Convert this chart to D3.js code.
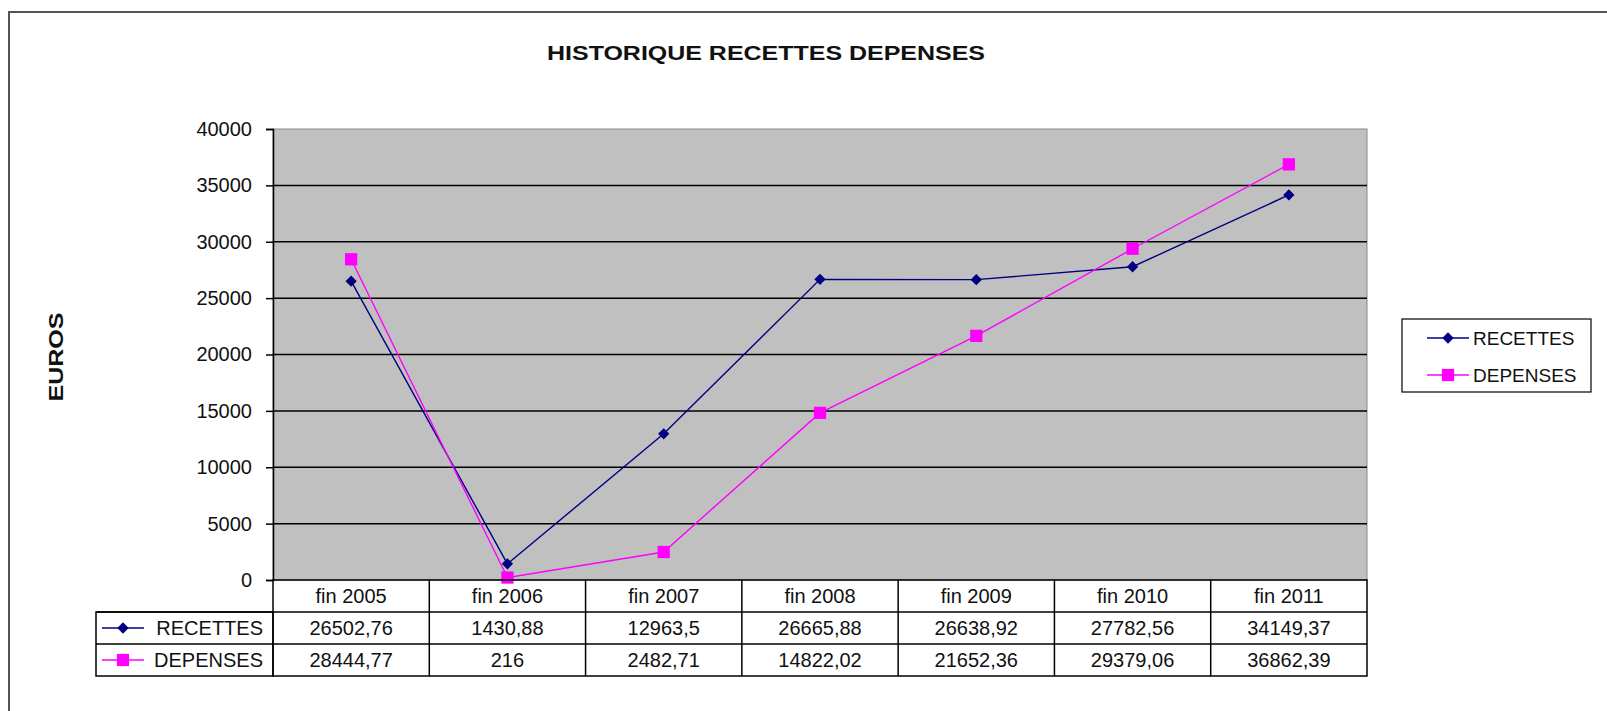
<!DOCTYPE html>
<html>
<head>
<meta charset="utf-8">
<script src="https://cdn.jsdelivr.net/npm/d3@7"></script>
<style>
  body { margin: 0; background: #fff; }
  text { font-family: "Liberation Sans", Arial, sans-serif; fill: #111; }
</style>
</head>
<body>
<svg id="chart" width="1607" height="711"></svg>
<script>
var years = ["fin 2005", "fin 2006", "fin 2007", "fin 2008", "fin 2009", "fin 2010", "fin 2011"]
var recettes = [26502.76, 1430.88, 12963.5, 26665.88, 26638.92, 27782.56, 34149.37]
var depenses = [28444.77, 216, 2482.71, 14822.02, 21652.36, 29379.06, 36862.39]
var recettesLabels = ["26502,76", "1430,88", "12963,5", "26665,88", "26638,92", "27782,56", "34149,37"]
var depensesLabels = ["28444,77", "216", "2482,71", "14822,02", "21652,36", "29379,06", "36862,39"]
var yTicks = [0, 5000, 10000, 15000, 20000, 25000, 30000, 35000, 40000]

var series = [
    {name: "RECETTES", values: recettes, labels: recettesLabels, color: "#000080", shape: "diamond"},
    {name: "DEPENSES", values: depenses, labels: depensesLabels, color: "#ff00ff", shape: "square"}
]

var dims = {
    plotLeft: 273,
    plotRight: 1367,
    plotTop: 129,
    plotBottom: 580,
    rowH: 32,
    tableLeft: 96
}

var svg = d3.select("#chart")

// outer frame: only top and left edges visible
svg.append("path")
    .attr("d", "M9,711 L9,12 L1607,12")
    .attr("fill", "none")
    .attr("stroke", "#555")
    .attr("stroke-width", 2)

svg.append("text")
    .attr("x", 766)
    .attr("y", 60)
    .attr("text-anchor", "middle")
    .attr("font-size", 21)
    .attr("font-weight", "bold")
    .attr("textLength", 438)
    .attr("lengthAdjust", "spacingAndGlyphs")
    .text("HISTORIQUE RECETTES DEPENSES")

svg.append("text")
    .attr("transform", "translate(63,357) rotate(-90)")
    .attr("text-anchor", "middle")
    .attr("font-size", 20)
    .attr("font-weight", "bold")
    .attr("textLength", 89)
    .attr("lengthAdjust", "spacingAndGlyphs")
    .text("EUROS")

var xScale = d3.scaleBand()
    .domain(years)
    .range([dims.plotLeft, dims.plotRight])
    .padding(0)

var yScale = d3.scaleLinear()
    .domain([0, 40000])
    .range([dims.plotBottom, dims.plotTop])

// plot background
svg.append("rect")
    .attr("x", dims.plotLeft)
    .attr("y", dims.plotTop)
    .attr("width", dims.plotRight - dims.plotLeft)
    .attr("height", dims.plotBottom - dims.plotTop)
    .attr("fill", "#c0c0c0")
    .attr("stroke", "#8a8a8a")
    .attr("stroke-width", 1)

// gridlines
svg.append("g")
    .selectAll("line")
    .data(yTicks.filter(d => d > 0 && d < 40000))
    .enter()
    .append("line")
    .attr("x1", dims.plotLeft)
    .attr("x2", dims.plotRight)
    .attr("y1", d => yScale(d))
    .attr("y2", d => yScale(d))
    .attr("stroke", "#000")
    .attr("stroke-width", 1.5)

// y axis
var yAxis = svg.append("g")
    .attr("transform", "translate(" + dims.plotLeft + ",0)")
    .call(d3.axisLeft(yScale).tickValues(yTicks).tickSize(7).tickPadding(14).tickFormat(d3.format("d")))
yAxis.select(".domain").attr("stroke", "#000").attr("stroke-width", 1.5)
yAxis.selectAll(".tick line").attr("stroke", "#000").attr("stroke-width", 1.5)
yAxis.selectAll(".tick text")
    .attr("font-size", 20)
    .attr("font-family", "Liberation Sans, Arial, sans-serif")
    .attr("fill", "#111")

// lines and markers
var line = d3.line()
    .x((d, i) => xScale(years[i]) + xScale.bandwidth() / 2)
    .y(d => yScale(d))

function markerPath(shape) {
    if (shape == "square") return d3.symbol().type(d3.symbolSquare).size(150)()
    return d3.symbol().type(d3.symbolSquare).size(64)()
}

series.forEach(function (s) {
    svg.append("path")
        .datum(s.values)
        .attr("d", line)
        .attr("fill", "none")
        .attr("stroke", s.color)
        .attr("stroke-width", 1.4)

    svg.append("g")
        .selectAll("path")
        .data(s.values)
        .enter()
        .append("path")
        .attr("d", markerPath(s.shape))
        .attr("transform", (d, i) => "translate(" + (xScale(years[i]) + xScale.bandwidth() / 2) + "," + yScale(d) + ")" + (s.shape == "diamond" ? " rotate(45)" : ""))
        .attr("fill", s.color)
})

// data table
var table = svg.append("g")
var tTop = dims.plotBottom
var tBottom = tTop + dims.rowH * 3

// cell borders
table.append("rect")
    .attr("x", dims.plotLeft).attr("y", tTop)
    .attr("width", dims.plotRight - dims.plotLeft).attr("height", dims.rowH * 3)
    .attr("fill", "none").attr("stroke", "#000").attr("stroke-width", 1.5)
table.append("rect")
    .attr("x", dims.tableLeft).attr("y", tTop + dims.rowH)
    .attr("width", dims.plotLeft - dims.tableLeft).attr("height", dims.rowH * 2)
    .attr("fill", "none").attr("stroke", "#000").attr("stroke-width", 1.5)
table.selectAll(".vline")
    .data(years.slice(1))
    .enter()
    .append("line")
    .attr("x1", d => xScale(d)).attr("x2", d => xScale(d))
    .attr("y1", tTop).attr("y2", tBottom)
    .attr("stroke", "#000").attr("stroke-width", 1.5)
table.selectAll(".hline")
    .data([1, 2])
    .enter()
    .append("line")
    .attr("x1", d => d == 1 ? dims.tableLeft : dims.tableLeft)
    .attr("x2", dims.plotRight)
    .attr("y1", d => tTop + d * dims.rowH).attr("y2", d => tTop + d * dims.rowH)
    .attr("stroke", "#000").attr("stroke-width", 1.5)

// header row
table.selectAll(".hdr")
    .data(years)
    .enter()
    .append("text")
    .attr("x", d => xScale(d) + xScale.bandwidth() / 2)
    .attr("y", tTop + dims.rowH / 2)
    .attr("dy", "0.36em")
    .attr("text-anchor", "middle")
    .attr("font-size", 20)
    .text(d => d)

series.forEach(function (s, k) {
    var cy = tTop + dims.rowH * (k + 1) + dims.rowH / 2
    table.append("g")
        .selectAll("text")
        .data(s.labels)
        .enter()
        .append("text")
        .attr("x", (d, i) => xScale(years[i]) + xScale.bandwidth() / 2)
        .attr("y", cy)
        .attr("dy", "0.36em")
        .attr("text-anchor", "middle")
        .attr("font-size", 20)
        .text(d => d)

    // legend key in table
    table.append("line")
        .attr("x1", 102).attr("x2", 144)
        .attr("y1", cy).attr("y2", cy)
        .attr("stroke", s.color).attr("stroke-width", 1.4)
    table.append("path")
        .attr("d", markerPath(s.shape))
        .attr("transform", "translate(123," + cy + ")" + (s.shape == "diamond" ? " rotate(45)" : ""))
        .attr("fill", s.color)
    table.append("text")
        .attr("x", 263)
        .attr("y", cy)
        .attr("dy", "0.36em")
        .attr("text-anchor", "end")
        .attr("font-size", 20)
        .text(s.name)
})

// legend box
var legend = svg.append("g")
legend.append("rect")
    .attr("x", 1402).attr("y", 319)
    .attr("width", 189).attr("height", 73)
    .attr("fill", "#fff").attr("stroke", "#000").attr("stroke-width", 1.2)

series.forEach(function (s, k) {
    var cy = 338 + k * 37
    legend.append("line")
        .attr("x1", 1427).attr("x2", 1469)
        .attr("y1", cy).attr("y2", cy)
        .attr("stroke", s.color).attr("stroke-width", 1.4)
    legend.append("path")
        .attr("d", markerPath(s.shape))
        .attr("transform", "translate(1448," + cy + ")" + (s.shape == "diamond" ? " rotate(45)" : ""))
        .attr("fill", s.color)
    legend.append("text")
        .attr("x", 1473)
        .attr("y", cy)
        .attr("dy", "0.36em")
        .attr("font-size", 19)
        .text(s.name)
})
</script>
</body>
</html>
